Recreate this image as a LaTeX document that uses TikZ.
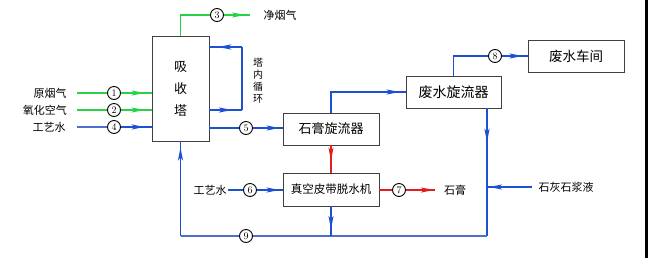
\documentclass[tikz,border=0pt]{standalone}
\usepackage{fontspec}
\newfontfamily\cjk{Noto Sans CJK SC}
\usetikzlibrary{arrows.meta,decorations.markings}
\definecolor{gcol}{RGB}{40,210,70}
\definecolor{bcol}{RGB}{30,80,210}
\definecolor{lbcol}{RGB}{80,110,205}
\definecolor{rcol}{RGB}{225,30,30}
\tikzset{
 box/.style={draw=black!75, line width=0.8pt, fill=white, inner sep=0pt},
 num/.style={circle, draw=black, line width=0.9pt, fill=white, inner sep=0pt, minimum size=13pt, font=\fontsize{10}{10}\selectfont},
 lbl/.style={font=\cjk\fontsize{11}{11}\selectfont, inner sep=0pt},
 gline/.style={color=gcol, line width=1.6pt},
 bline/.style={color=bcol, line width=1.6pt},
 lbline/.style={color=lbcol, line width=1.3pt},
 rline/.style={color=rcol, line width=1.6pt},
 midarr/.style={postaction={decorate}, decoration={markings, mark=at position #1 with {\arrow{Stealth[length=13pt,width=5pt,inset=3pt]}}}},
}
\begin{document}
\begin{tikzpicture}[x=1pt,y=-1pt]
\useasboundingbox (0,0) rectangle (648,258);
\fill[white] (0,0) rectangle (648,258);
\fill[black] (645,0) rectangle (648,258);

% boxes
\node[box, minimum width=57pt, minimum height=105pt, align=center, font=\cjk\fontsize{13}{22}\selectfont] (abs) at (180.5,88.5) {吸\\收\\塔};
\node[box, minimum width=96pt, minimum height=32pt, font=\cjk\fontsize{13}{13}\selectfont] (gc) at (331,129) {石膏旋流器};
\node[box, minimum width=96pt, minimum height=33pt, font=\cjk\fontsize{11.5}{11.5}\selectfont] (bf) at (331,189.5) {真空皮带脱水机};
\node[box, minimum width=95pt, minimum height=32pt, font=\cjk\fontsize{14}{14}\selectfont] (wc) at (453.5,92) {废水旋流器};
\node[box, minimum width=96pt, minimum height=32pt, font=\cjk\fontsize{13.5}{13.5}\selectfont] (ww) at (576,56) {废水车间};

% labels
\node[lbl] (t3) at (280,15) {净烟气};
\node[lbl] (t1) at (50,93) {原烟气};
\node[lbl] (t2) at (45,110) {氧化空气};
\node[lbl] (t4) at (49,127) {工艺水};
\node[lbl] (t6) at (210,190) {工艺水};
\node[lbl] (t7) at (455,190) {石膏};
\node[lbl] (lime) at (566,187) {石灰石浆液};
\node[lbl, align=center, font=\cjk\fontsize{10}{12}\selectfont] (loopt) at (258,81) {塔\\内\\循\\环};

% coordinates
\coordinate (s1) at (77,93);
\coordinate (s2) at (77,110);
\coordinate (s4) at (77,127);
\coordinate (e3) at (250,15);
\coordinate (l1) at (209,47);
\coordinate (l2) at (242,47);
\coordinate (l3) at (242,110);
\coordinate (l4) at (209,110);
\coordinate (w1) at (487,108);
\coordinate (w2) at (487,236);
\coordinate (w3) at (180.5,236);
\coordinate (ls) at (532,187);
\coordinate (s6) at (228,190);
\coordinate (e7) at (435,190);

% number circles
\node[num] (c3) at (217,15) {3};
\node[num] (c1) at (114,93) {1};
\node[num] (c2) at (114,110) {2};
\node[num] (c4) at (114,127) {4};
\node[num] (c5) at (246,128) {5};
\node[num] (c8) at (495,56) {8};
\node[num] (c9) at (246,236) {9};
\node[num] (c6) at (250,190) {6};
\node[num] (c7) at (399,190) {7};

% green lines
\draw[gline] (abs.north) |- (c3);
\draw[gline, midarr=-5pt] (c3) -- (e3);
\draw[gline] (s1) -- (c1);
\draw[gline, midarr=-7pt] (c1) -- (c1 -| abs.west);
\draw[gline] (s2) -- (c2);
\draw[gline, midarr=-7pt] (c2) -- (c2 -| abs.west);

% blue lines
\draw[lbline] (s4) -- (c4);
\draw[bline, midarr=-7pt] (c4) -- (c4 -| abs.west);
\draw[bline, line width=2pt] (l2) -- (l3);
\draw[bline, line width=2pt, midarr=23pt] (l4) -- (l3);
\draw[bline, line width=2pt, midarr=24pt] (l2) -- (l1);
\draw[bline] (abs.east |- c5) -- (c5);
\draw[bline, midarr=-3pt] (c5) -- (c5 -| gc.west);
\draw[bline, midarr=-6pt] (gc.north) |- (wc.west);
\draw[bline] (wc.north) |- (c8);
\draw[bline, midarr=-5pt] (c8) -- (ww.west);
\draw[bline, line width=2.2pt, midarr=34pt] (w1) -- (w2);
\draw[lbline] (w2) -- (c9);
\draw[lbline] (c9) -- (w3);
\draw[bline, midarr=-6pt] (w3) -- (abs.south);
\draw[bline, midarr=-2pt] (ls) -- (ls -| w1);
\draw[bline] (s6) -- (c6);
\draw[bline, midarr=-3pt] (c6) -- (c6 -| bf.west);
\draw[bline, midarr=-7pt] (bf.south) -- (bf.south |- w2);

% red lines
\draw[rline, midarr=-12pt] (gc.south) -- (bf.north);
\draw[rline] (bf.east |- c7) -- (c7);
\draw[rline, midarr=-1pt] (c7) -- (e7);
\end{tikzpicture}
\end{document}
